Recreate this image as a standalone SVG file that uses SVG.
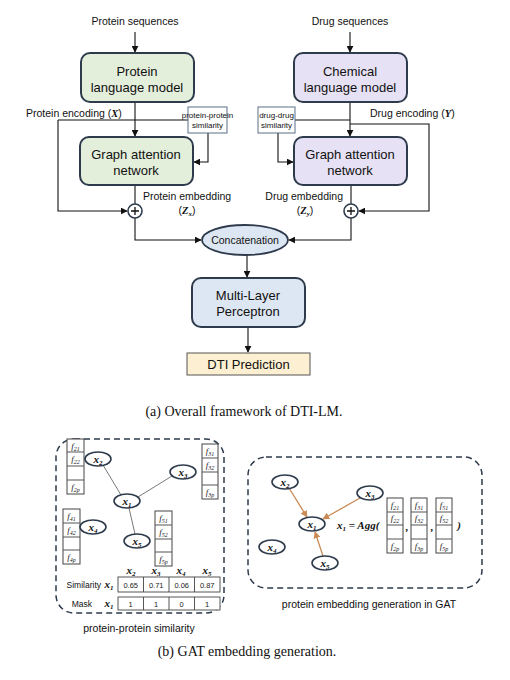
<svg xmlns="http://www.w3.org/2000/svg" width="510" height="680" viewBox="0 0 510 680">
<defs>
<marker id="ah" viewBox="0 0 10 10" refX="9" refY="5" markerWidth="7" markerHeight="7" markerUnits="userSpaceOnUse" orient="auto"><path d="M0,0 L10,5 L0,10 z" fill="#111"/></marker>
<marker id="aho" viewBox="0 0 10 10" refX="9" refY="5" markerWidth="7" markerHeight="7" markerUnits="userSpaceOnUse" orient="auto"><path d="M0,0 L10,5 L0,10 z" fill="#c98a55"/></marker>
<style>
.sans{font-family:"Liberation Sans",Arial,sans-serif;fill:#111}
.lbl{font-size:10.5px}
.box{font-size:13px;text-anchor:middle}
.math{font-family:"Liberation Serif","Times New Roman",serif;font-style:italic;font-weight:bold}
.cap{font-family:"Liberation Serif","Times New Roman",serif;font-size:14px;text-anchor:middle;fill:#111}
.node{stroke:#2e3b4c;stroke-width:2}
.ln{fill:none;stroke:#111;stroke-width:1.1}
.sim{fill:#fff;stroke:#5b7088;stroke-width:1}
.simt{font-size:8px;text-anchor:middle}
.dash{fill:none;stroke:#2e3b4c;stroke-width:1.5;stroke-dasharray:6 4}
.el{fill:#fff;stroke:#2e3b4c;stroke-width:1.6}
.xl{font-family:"Liberation Serif","Times New Roman",serif;font-style:italic;font-weight:bold;font-size:11px;text-anchor:middle;fill:#111}
.fm{font-family:"Liberation Serif","Times New Roman",serif;font-style:italic;font-weight:bold;font-size:11px;text-anchor:start;fill:#111}
.vec{fill:#fff;stroke:#444;stroke-width:1}
.vl{font-family:"Liberation Serif","Times New Roman",serif;font-style:italic;font-size:9px;text-anchor:middle;fill:#222}
.edge{stroke:#555;stroke-width:0.8}
.oe{stroke:#c98a55;stroke-width:1.3;fill:none}
.tb{fill:#fff;stroke:#444;stroke-width:0.9}
.tv{font-family:"Liberation Sans",Arial,sans-serif;font-size:7.5px;text-anchor:middle;fill:#222}
</style>
</defs>
<rect width="510" height="680" fill="#fff"/>

<text class="sans lbl" x="135" y="25" text-anchor="middle">Protein sequences</text>
<text class="sans lbl" x="350" y="25" text-anchor="middle">Drug sequences</text>

<g id="connectors">
<line class="ln" x1="135" y1="32" x2="135" y2="52" marker-end="url(#ah)"/>
<line class="ln" x1="350" y1="32" x2="350" y2="52" marker-end="url(#ah)"/>
<line class="ln" x1="135" y1="102" x2="135" y2="136" marker-end="url(#ah)"/>
<line class="ln" x1="350" y1="102" x2="350" y2="136" marker-end="url(#ah)"/>
<line class="ln" x1="58" y1="120" x2="188" y2="120"/>
<polyline class="ln" points="58,120 58,211 127,211" marker-end="url(#ah)"/>
<polyline class="ln" points="208,133 208,162 194,162" marker-end="url(#ah)"/>
<line class="ln" x1="135" y1="185" x2="135" y2="204"/>
<polyline class="ln" points="135,218 135,240 201,240" marker-end="url(#ah)"/>
<line class="ln" x1="295" y1="120" x2="350" y2="120"/>
<polyline class="ln" points="350,124 429,124 429,211 359,211" marker-end="url(#ah)"/>
<polyline class="ln" points="278,133 278,162 293,162" marker-end="url(#ah)"/>
<line class="ln" x1="351" y1="185" x2="351" y2="204"/>
<polyline class="ln" points="351,218 351,240 289,240" marker-end="url(#ah)"/>
<line class="ln" x1="247" y1="255" x2="247" y2="277" marker-end="url(#ah)"/>
<line class="ln" x1="248" y1="327" x2="248" y2="352" marker-end="url(#ah)"/>
</g>

<g id="plm"><rect class="node" x="81" y="53" width="113" height="49" rx="9" fill="#e3eedb"/>
<text class="sans box" x="137" y="76">Protein</text><text class="sans box" x="137" y="92">language model</text></g>
<g id="clm"><rect class="node" x="294" y="53" width="113" height="49" rx="9" fill="#e6e1f5"/>
<text class="sans box" x="350" y="76">Chemical</text><text class="sans box" x="350" y="92">language model</text></g>
<g id="gat_p"><rect class="node" x="80" y="137" width="113" height="48" rx="9" fill="#e3eedb"/>
<text class="sans box" x="136" y="159">Graph attention</text><text class="sans box" x="136" y="175">network</text></g>
<g id="gat_d"><rect class="node" x="294" y="137" width="113" height="48" rx="9" fill="#e6e1f5"/>
<text class="sans box" x="350" y="159">Graph attention</text><text class="sans box" x="350" y="175">network</text></g>

<g id="pps"><rect class="sim" x="188" y="107" width="39" height="26"/>
<text class="sans simt" x="207.5" y="118">protein-protein</text><text class="sans simt" x="207.5" y="128">similarity</text></g>
<g id="dds"><rect class="sim" x="258" y="107" width="37" height="26"/>
<text class="sans simt" x="276.5" y="118">drug-drug</text><text class="sans simt" x="276.5" y="128">similarity</text></g>

<text class="sans lbl" x="26" y="117">Protein encoding (<tspan class="math">X</tspan>)</text>
<text class="sans lbl" x="370" y="117">Drug encoding (<tspan class="math">Y</tspan>)</text>
<text class="sans lbl" x="143" y="200">Protein embedding</text>
<text class="sans lbl" x="187" y="214" text-anchor="middle">(<tspan class="math">Z</tspan><tspan class="math" font-size="7" dy="2">x</tspan><tspan dy="-2">)</tspan></text>
<text class="sans lbl" x="343" y="200" text-anchor="end">Drug embedding</text>
<text class="sans lbl" x="305" y="214" text-anchor="middle">(<tspan class="math">Z</tspan><tspan class="math" font-size="7" dy="2">y</tspan><tspan dy="-2">)</tspan></text>

<g id="plus_p"><circle cx="135" cy="211" r="7" fill="#fff" stroke="#2e3b4c" stroke-width="1.6"/><path d="M131,211 H139 M135,207 V215" stroke="#111" stroke-width="1.3"/></g>
<g id="plus_d"><circle cx="351" cy="211" r="7" fill="#fff" stroke="#2e3b4c" stroke-width="1.6"/><path d="M347,211 H355 M351,207 V215" stroke="#111" stroke-width="1.3"/></g>

<g id="concat"><ellipse cx="245" cy="240" rx="43" ry="15" fill="#dde7f3" stroke="#2e3b4c" stroke-width="1.8"/>
<text class="sans" x="245" y="244" font-size="10.5" text-anchor="middle">Concatenation</text></g>
<g id="mlp"><rect class="node" x="192" y="278" width="113" height="49" rx="9" fill="#dde7f3"/>
<text class="sans box" x="248" y="300">Multi-Layer</text><text class="sans box" x="248" y="316">Perceptron</text></g>
<g id="dti"><rect x="187" y="353" width="123" height="22" fill="#fdf0d2" stroke="#555" stroke-width="1"/>
<text class="sans" x="248.5" y="369" font-size="13" text-anchor="middle">DTI Prediction</text></g>

<text class="cap" x="244" y="416">(a) Overall framework of DTI-LM.</text>

<g id="left_panel">
<rect class="dash" x="56" y="439" width="168" height="174" rx="18"/>
<g class="edges">
<line class="edge" x1="103" y1="465" x2="121" y2="495"/>
<line class="edge" x1="172" y1="476" x2="138" y2="497"/>
<line class="edge" x1="129" y1="508" x2="135" y2="534"/>
</g>
<g id="f2" transform="translate(67,439)"><rect class="vec" width="17" height="55"/><path d="M0,13 H17 M0,27 H17 M0,41 H17" stroke="#555" stroke-width="1"/>
<text class="vl" x="8.5" y="10">f<tspan font-size="6" dy="1.5">21</tspan></text><text class="vl" x="8.5" y="23">f<tspan font-size="6" dy="1.5">22</tspan></text><text class="vl" x="8.5" y="51">f<tspan font-size="6" dy="1.5">2p</tspan></text></g>
<g id="f3" transform="translate(202,444)"><rect class="vec" width="16" height="55"/><path d="M0,14 H16 M0,28 H16 M0,41 H16" stroke="#555" stroke-width="1"/>
<text class="vl" x="8" y="10">f<tspan font-size="6" dy="1.5">31</tspan></text><text class="vl" x="8" y="24">f<tspan font-size="6" dy="1.5">32</tspan></text><text class="vl" x="8" y="51">f<tspan font-size="6" dy="1.5">3p</tspan></text></g>
<g id="f4" transform="translate(63,509)"><rect class="vec" width="17" height="55"/><path d="M0,14 H17 M0,28 H17 M0,41 H17" stroke="#555" stroke-width="1"/>
<text class="vl" x="8.5" y="10">f<tspan font-size="6" dy="1.5">41</tspan></text><text class="vl" x="8.5" y="24">f<tspan font-size="6" dy="1.5">42</tspan></text><text class="vl" x="8.5" y="51">f<tspan font-size="6" dy="1.5">4p</tspan></text></g>
<g id="f5" transform="translate(155,511)"><rect class="vec" width="17" height="55"/><path d="M0,14 H17 M0,28 H17 M0,41 H17" stroke="#555" stroke-width="1"/>
<text class="vl" x="8.5" y="10">f<tspan font-size="6" dy="1.5">51</tspan></text><text class="vl" x="8.5" y="24">f<tspan font-size="6" dy="1.5">52</tspan></text><text class="vl" x="8.5" y="51">f<tspan font-size="6" dy="1.5">5p</tspan></text></g>
<g id="lx2"><ellipse class="el" cx="98" cy="459" rx="13" ry="7"/><text class="xl" x="98" y="463">x<tspan font-size="7" dy="2">2</tspan></text></g>
<g id="lx3"><ellipse class="el" cx="183" cy="472" rx="13" ry="7"/><text class="xl" x="183" y="476">x<tspan font-size="7" dy="2">3</tspan></text></g>
<g id="lx1"><ellipse class="el" cx="127" cy="501" rx="13" ry="7"/><text class="xl" x="127" y="505">x<tspan font-size="7" dy="2">1</tspan></text></g>
<g id="lx4"><ellipse class="el" cx="93" cy="527" rx="13" ry="7"/><text class="xl" x="93" y="531">x<tspan font-size="7" dy="2">4</tspan></text></g>
<g id="lx5"><ellipse class="el" cx="137" cy="541" rx="13" ry="7"/><text class="xl" x="137" y="545">x<tspan font-size="7" dy="2">5</tspan></text></g>
<g id="table">
<text class="xl" x="131" y="574">x<tspan font-size="7" dy="2">2</tspan></text>
<text class="xl" x="156" y="574">x<tspan font-size="7" dy="2">3</tspan></text>
<text class="xl" x="181" y="574">x<tspan font-size="7" dy="2">4</tspan></text>
<text class="xl" x="207" y="574">x<tspan font-size="7" dy="2">5</tspan></text>
<text class="sans" x="101" y="588" font-size="8.5" text-anchor="end">Similarity</text>
<text class="xl" x="109" y="588">x<tspan font-size="7" dy="2">1</tspan></text>
<text class="sans" x="92" y="607" font-size="8.5" text-anchor="end">Mask</text>
<text class="xl" x="109" y="607">x<tspan font-size="7" dy="2">1</tspan></text>
<rect class="tb" x="118" y="577" width="102" height="15"/>
<path d="M143.5,577 V592 M169,577 V592 M194.5,577 V592" stroke="#444" stroke-width="0.9"/>
<text class="tv" x="130.7" y="587.5">0.65</text><text class="tv" x="156.2" y="587.5">0.71</text><text class="tv" x="181.7" y="587.5">0.06</text><text class="tv" x="207.2" y="587.5">0.87</text>
<rect class="tb" x="118" y="597" width="102" height="13"/>
<path d="M143.5,597 V610 M169,597 V610 M194.5,597 V610" stroke="#444" stroke-width="0.9"/>
<text class="tv" x="130.7" y="606.5">1</text><text class="tv" x="156.2" y="606.5">1</text><text class="tv" x="181.7" y="606.5">0</text><text class="tv" x="207.2" y="606.5">1</text>
</g>
<text class="sans" x="139" y="632" font-size="10.5" text-anchor="middle">protein-protein similarity</text>
</g>

<g id="right_panel">
<rect class="dash" x="248" y="457" width="234" height="131" rx="18"/>
<line class="oe" x1="289" y1="488" x2="307" y2="517" marker-end="url(#aho)"/>
<line class="oe" x1="360" y1="498" x2="323" y2="519" marker-end="url(#aho)"/>
<line class="oe" x1="323" y1="556" x2="315" y2="532" marker-end="url(#aho)"/>
<g id="rx2"><ellipse class="el" cx="285" cy="482" rx="13" ry="7"/><text class="xl" x="285" y="486">x<tspan font-size="7" dy="2">2</tspan></text></g>
<g id="rx3"><ellipse class="el" cx="370" cy="493" rx="13" ry="7"/><text class="xl" x="370" y="497">x<tspan font-size="7" dy="2">3</tspan></text></g>
<g id="rx1"><ellipse class="el" cx="312" cy="524" rx="13" ry="7"/><text class="xl" x="312" y="528">x<tspan font-size="7" dy="2">1</tspan></text></g>
<g id="rx4"><ellipse class="el" cx="272" cy="547" rx="13" ry="7"/><text class="xl" x="272" y="551">x<tspan font-size="7" dy="2">4</tspan></text></g>
<g id="rx5"><ellipse class="el" cx="325" cy="563" rx="13" ry="7"/><text class="xl" x="325" y="567">x<tspan font-size="7" dy="2">5</tspan></text></g>
<text class="fm" x="337" y="529">x<tspan font-size="7" dy="2">1</tspan><tspan dy="-2"> = Agg(</tspan></text>
<g transform="translate(387,498)"><rect class="vec" width="16" height="55"/><path d="M0,14 H16 M0,27 H16 M0,41 H16" stroke="#555" stroke-width="1"/>
<text class="vl" x="8" y="10">f<tspan font-size="6" dy="1.5">21</tspan></text><text class="vl" x="8" y="23">f<tspan font-size="6" dy="1.5">22</tspan></text><text class="vl" x="8" y="51">f<tspan font-size="6" dy="1.5">2p</tspan></text></g>
<g transform="translate(411,498)"><rect class="vec" width="16" height="55"/><path d="M0,14 H16 M0,27 H16 M0,41 H16" stroke="#555" stroke-width="1"/>
<text class="vl" x="8" y="10">f<tspan font-size="6" dy="1.5">31</tspan></text><text class="vl" x="8" y="23">f<tspan font-size="6" dy="1.5">32</tspan></text><text class="vl" x="8" y="51">f<tspan font-size="6" dy="1.5">3p</tspan></text></g>
<g transform="translate(436,498)"><rect class="vec" width="16" height="55"/><path d="M0,14 H16 M0,27 H16 M0,41 H16" stroke="#555" stroke-width="1"/>
<text class="vl" x="8" y="10">f<tspan font-size="6" dy="1.5">51</tspan></text><text class="vl" x="8" y="23">f<tspan font-size="6" dy="1.5">52</tspan></text><text class="vl" x="8" y="51">f<tspan font-size="6" dy="1.5">5p</tspan></text></g>
<text class="xl" x="407" y="531">,</text>
<text class="xl" x="432" y="531">,</text>
<text class="xl" x="459" y="529">)</text>
<text class="sans" x="369" y="608" font-size="10.5" text-anchor="middle">protein embedding generation in GAT</text>
</g>

<text class="cap" x="247" y="656">(b) GAT embedding generation.</text>
</svg>
